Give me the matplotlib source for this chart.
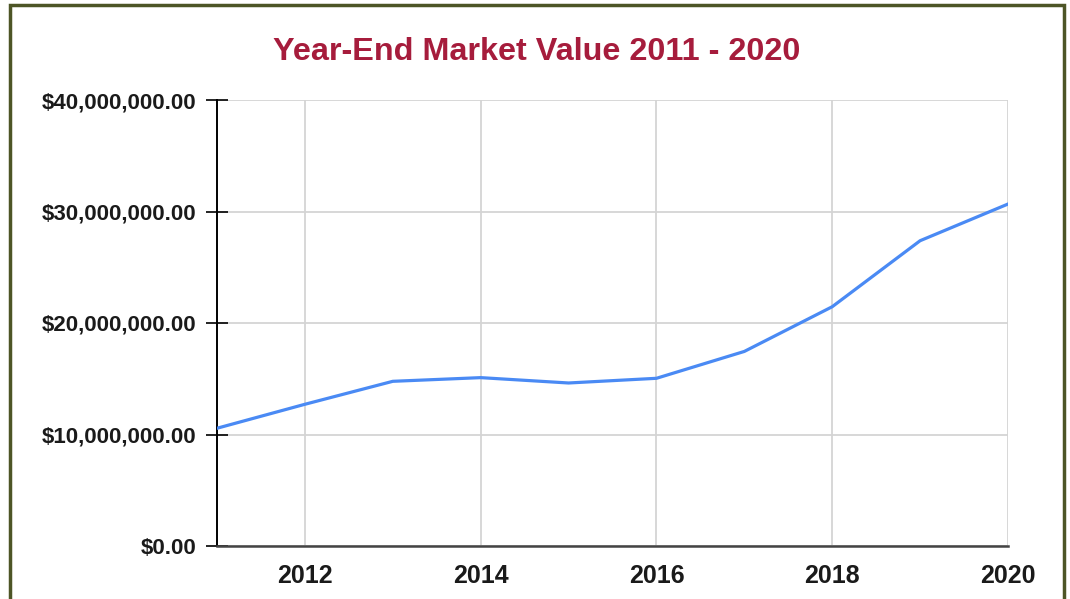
import matplotlib
matplotlib.use('Agg')
import matplotlib.pyplot as plt
from matplotlib.patches import Rectangle
from matplotlib.ticker import FuncFormatter

# Données du graphique
years = [2011, 2012, 2013, 2014, 2015, 2016, 2017, 2018, 2019, 2020]
market_value = [10.56e6, 12.71e6, 14.77e6, 15.10e6, 14.62e6, 15.04e6,
                17.45e6, 21.46e6, 27.38e6, 30.67e6]
x_ticks = [2012, 2014, 2016, 2018, 2020]
y_ticks = [0, 10e6, 20e6, 30e6, 40e6]

plt.rcParams['font.family'] = ['Liberation Sans', 'DejaVu Sans']

fig = plt.figure(figsize=(10.7, 5.99), dpi=100)
ax = fig.add_axes([217 / 1070, 1 - 546 / 599, (1008 - 217) / 1070, (546 - 100) / 599])

ax.plot(years, market_value, color='#4a8af4', linewidth=2.3, zorder=3)

ax.set_xlim(2011, 2020)
ax.set_ylim(0, 40e6)
ax.set_xticks(x_ticks)
ax.set_yticks(y_ticks)
ax.yaxis.set_major_formatter(FuncFormatter(lambda v, p: '${:,.2f}'.format(v)))

ax.grid(True, color='#d4d4d4', linewidth=1.3, zorder=0)
ax.set_axisbelow(True)

# Axes : gauche noir, bas gris foncé
for side in ['top', 'right']:
    ax.spines[side].set_visible(False)
ax.spines['left'].set_color('black')
ax.spines['left'].set_linewidth(1.4)
ax.spines['bottom'].set_color('#444444')
ax.spines['bottom'].set_linewidth(1.8)

ax.tick_params(axis='y', direction='inout', length=16, width=1.2, color='black',
               labelsize=16, pad=7)
ax.tick_params(axis='x', length=0, labelsize=18, pad=13)
for lbl in ax.get_xticklabels() + ax.get_yticklabels():
    lbl.set_fontweight('bold')
    lbl.set_color('#1a1a1a')

# Titre
fig.text(0.5015, 1 - 52 / 599, 'Year-End Market Value 2011 - 2020', ha='center', va='center',
         fontsize=23.3, fontweight='bold', color='#a61c3c')

# Cadre vert olive autour de l'image
frame = Rectangle((10 / 1070, -0.05), (1064 - 10) / 1070, 1.05 - 5 / 599,
                  transform=fig.transFigure, fill=False, edgecolor='#4d5526',
                  linewidth=2.5, zorder=10)
fig.patches.append(frame)

plt.savefig('out.png', dpi=100)
plt.close()
